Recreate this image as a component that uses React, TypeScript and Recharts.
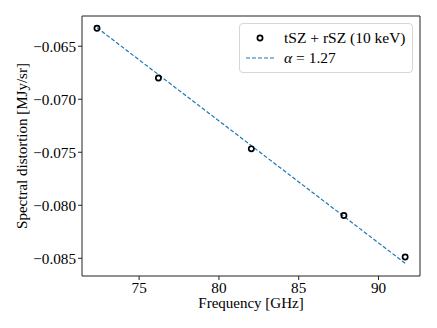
import {
  ComposedChart, Scatter, Line,
  XAxis, YAxis, Legend, Label, ReferenceLine,
} from 'recharts'

// measured points (GHz, MJy/sr)
const freqs = [72.36, 76.21, 82.03, 87.83, 91.67]
const distortion = [-0.0633, -0.0680, -0.07468, -0.08097, -0.08488]

// fitted power law, drawn between the end frequencies
const fitFreqs = [72.36, 91.67]
const fitValues = [-0.06325, -0.08547]

const xTicks = [75, 80, 85, 90]
const yTicks = [-0.085, -0.08, -0.075, -0.07, -0.065]

const xDomain = [71.42, 92.6]
const yDomain = [-0.08667, -0.06215]

const POINTS_NAME = 'tSZ + rSZ (10 keV)'
const FIT_ALPHA = '1.27'

const FONT = "'Liberation Serif', 'DejaVu Serif', serif"
const AXIS = '#222222'
const FIT_BLUE = '#1f77b4'
const TICK_SIZE = 15.2

const points = freqs.map((x, i) => ({ x, y: distortion[i] }))
const fitLine = fitFreqs.map((x, i) => ({ x, y: fitValues[i] }))

const fmtY = (v: number) => (v < 0 ? '\u2212' : '') + Math.abs(v).toFixed(3)

function XTick(props: any) {
  const { x, y, payload } = props
  return (
    <text x={x} y={y} dy="0.71em" textAnchor="middle" fill="#000" fontSize={TICK_SIZE} fontFamily={FONT}>
      {payload.value}
    </text>
  )
}

function YTick(props: any) {
  const { x, y, payload } = props
  return (
    <text x={x} y={y} dy="0.355em" textAnchor="end" fill="#000" fontSize={TICK_SIZE} fontFamily={FONT}>
      {fmtY(payload.value)}
    </text>
  )
}

function OpenCircle(props: any) {
  const { cx, cy } = props
  if (cx == null || cy == null) return null
  return <circle cx={cx} cy={cy} r={2.6} fill="none" stroke="#000" strokeWidth={1.7} />
}

function FitLegend() {
  const row = { display: 'flex', alignItems: 'center', height: 20 }
  return (
    <div style={{
      width: 172, height: 44, boxSizing: 'content-box',
      border: '1px solid #d6d6d6', borderRadius: 4, background: 'rgba(255,255,255,0.85)',
      fontFamily: FONT, fontSize: 15.5, color: '#000', paddingTop: 4, lineHeight: '20px',
    }}>
      <div style={row}>
        <svg width={44} height={20} style={{ flex: 'none' }}>
          <circle cx={20} cy={10} r={2.6} fill="none" stroke="#000" strokeWidth={1.7} />
        </svg>
        <span style={{ whiteSpace: 'nowrap' }}>{POINTS_NAME}</span>
      </div>
      <div style={row}>
        <svg width={44} height={20} style={{ flex: 'none' }}>
          <line x1={6} x2={34} y1={10} y2={10} stroke={FIT_BLUE} strokeWidth={1.2} strokeDasharray="4 2" />
        </svg>
        <span style={{ whiteSpace: 'nowrap' }}><i>α</i> = {FIT_ALPHA}</span>
      </div>
    </div>
  )
}

export default function App() {
  return (
    <div style={{ position: 'absolute', left: 0, top: 0, width: 437, height: 328, background: '#fff', fontFamily: FONT }}>
      <ComposedChart width={437} height={328} margin={{ top: 16, right: 17, bottom: 12, left: 30 }}>
        <XAxis
          dataKey="x" type="number" domain={xDomain} ticks={xTicks} allowDataOverflow
          height={40} stroke={AXIS} tickSize={4} tick={<XTick />}
        >
          <Label value="Frequency [GHz]" position="insideBottom" offset={8}
            style={{ fontSize: 15, fill: '#000', fontFamily: FONT }} />
        </XAxis>
        <YAxis
          dataKey="y" type="number" domain={yDomain} ticks={yTicks} allowDataOverflow
          width={52} stroke={AXIS} tickSize={4} tick={<YTick />}
        >
          <Label
            content={() => (
              <text x={27} y={146} transform="rotate(-90 27 146)" textAnchor="middle"
                style={{ fontSize: 15, fill: '#000', fontFamily: FONT }}>
                Spectral distortion [MJy/sr]
              </text>
            )}
          />
        </YAxis>
        {/* top and right frame */}
        <ReferenceLine y={yDomain[1]} stroke={AXIS} ifOverflow="extendDomain" />
        <ReferenceLine x={xDomain[1]} stroke={AXIS} ifOverflow="extendDomain" />
        <Line data={fitLine} dataKey="y" type="linear" stroke={FIT_BLUE} strokeWidth={1.2}
          strokeDasharray="4 2" dot={false} activeDot={false} isAnimationActive={false} />
        <Scatter data={points} dataKey="y" shape={<OpenCircle />} isAnimationActive={false} />
        <Legend layout="horizontal" verticalAlign="middle" align="center"
          wrapperStyle={{ top: 23, left: 239, width: 174 }} content={() => <FitLegend />} />
      </ComposedChart>
    </div>
  )
}
